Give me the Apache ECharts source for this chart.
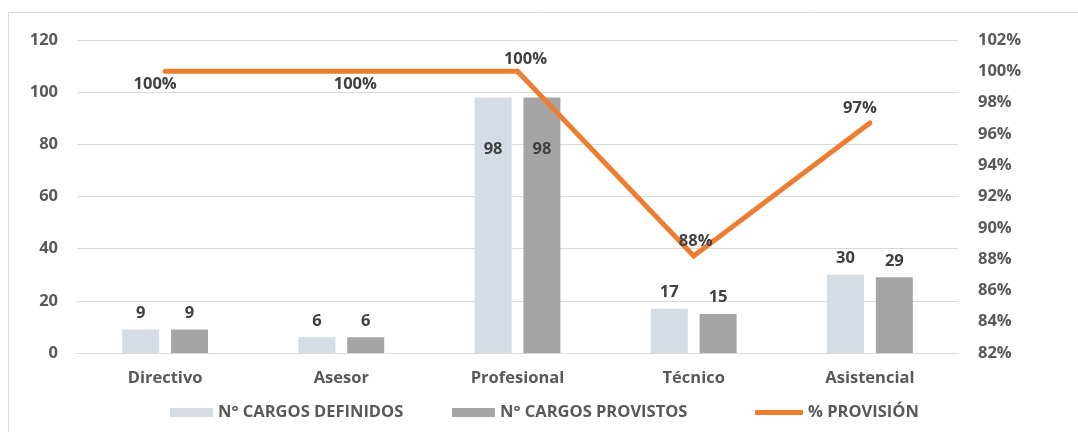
<!DOCTYPE html>
<html><head><meta charset="utf-8">
<script src="https://cdn.jsdelivr.net/npm/echarts@6/dist/echarts.min.js"></script>
<style>html,body{margin:0;padding:0;background:#fff}#c{width:1078px;height:432px}</style>
</head><body><div id="c"></div>
<script>
const categories = ['Directivo','Asesor','Profesional','Técnico','Asistencial'];
const definidos = [9, 6, 98, 17, 30];
const provistos = [9, 6, 98, 15, 29];
const provision = [100, 100, 100, 88.2, 96.7];
const leftTicks = {min: 0, max: 120, interval: 20};
const rightTicks = {min: 82, max: 102, interval: 2};

const FONT = '"Open Sans", sans-serif';
const FS = 16.5;
const TXT = '#404040';
const AX = '#595959';
const lineLabelPos = [
  {position: 'bottom', distance: 4, offset: [-10, 0]},
  {position: 'bottom', distance: 4, offset: [14, 0]},
  {position: 'top', distance: 4, offset: [8, 0]},
  {position: 'top', distance: 6, offset: [2, 0]},
  {position: 'top', distance: 6, offset: [-10, 0]}
];
const chart = echarts.init(document.getElementById('c'));
const barLabel = {show: true, position: 'top', distance: 8, color: TXT, fontFamily: FONT, fontWeight: 'bold', fontSize: FS};
function barData(arr) {
  return arr.map((v, i) => v > 60 ? {value: v, label: {position: 'insideTop', distance: 43}} : v);
}
const legText = {color: AX, fontFamily: FONT, fontWeight: 'bold', fontSize: FS};
chart.setOption({
  animation: false,
  textStyle: {fontFamily: FONT},
  graphic: [{type: 'rect', shape: {x: 8.5, y: 12.5, width: 1100, height: 440}, style: {fill: 'none', stroke: '#D9D9D9', lineWidth: 1}, silent: true}],
  grid: {left: 77, right: 120, top: 40, bottom: 79},
  legend: [
    {data: ['N° CARGOS DEFINIDOS'], left: 170, top: 404, padding: 0, itemWidth: 43, itemHeight: 9, icon: 'rect', textStyle: legText},
    {data: ['N° CARGOS PROVISTOS'], left: 452, top: 404, padding: 0, itemWidth: 43, itemHeight: 9, icon: 'rect', textStyle: legText},
    {data: ['% PROVISIÓN'], left: 755, top: 404, padding: 0, itemWidth: 48, itemHeight: 5, icon: 'roundRect', textStyle: legText}
  ],
  xAxis: {
    type: 'category', data: categories,
    axisLine: {lineStyle: {color: '#D9D9D9', width: 1}},
    axisTick: {show: false},
    axisLabel: {color: AX, fontFamily: FONT, fontWeight: 'bold', fontSize: FS, margin: 17}
  },
  yAxis: [{
    type: 'value', min: leftTicks.min, max: leftTicks.max, interval: leftTicks.interval,
    axisLine: {show: false}, axisTick: {show: false},
    splitLine: {lineStyle: {color: '#D9D9D9', width: 1}},
    axisLabel: {color: AX, fontFamily: FONT, fontWeight: 'bold', fontSize: FS, margin: 19}
  }, {
    type: 'value', min: rightTicks.min, max: rightTicks.max, interval: rightTicks.interval,
    axisLine: {show: false}, axisTick: {show: false}, splitLine: {show: false},
    axisLabel: {color: AX, fontFamily: FONT, fontWeight: 'bold', fontSize: FS, margin: 20, formatter: '{value}%'}
  }],
  series: [{
    name: 'N° CARGOS DEFINIDOS', type: 'bar', data: barData(definidos),
    barWidth: '21%', barGap: '32%',
    itemStyle: {color: '#D6DCE5'}, label: barLabel
  }, {
    name: 'N° CARGOS PROVISTOS', type: 'bar', data: barData(provistos),
    barWidth: '21%', barGap: '32%',
    itemStyle: {color: '#A5A5A5'}, label: barLabel
  }, {
    name: '% PROVISIÓN', type: 'line', yAxisIndex: 1,
    data: provision.map((v, i) => ({value: v, label: lineLabelPos[i]})),
    symbol: 'circle', symbolSize: 0, showSymbol: true,
    lineStyle: {color: '#ED7D31', width: 5, cap: 'round', join: 'miter'},
    itemStyle: {color: '#ED7D31'},
    label: {show: true, color: TXT, fontFamily: FONT, fontWeight: 'bold', fontSize: FS,
      formatter: p => Math.round(p.value) + '%'},
    z: 5
  }]
});
</script></body></html>
